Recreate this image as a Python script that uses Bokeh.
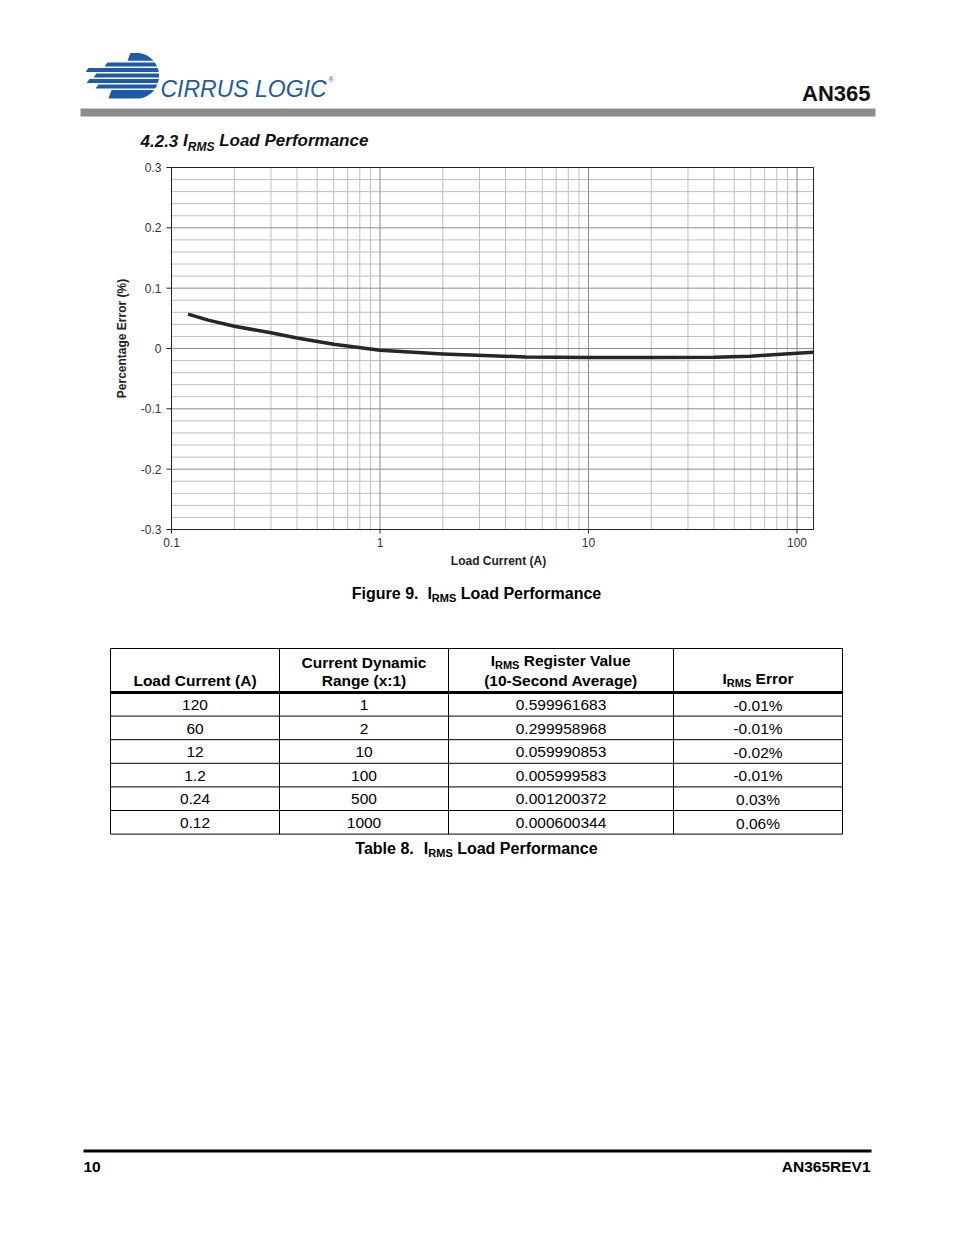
import math
from bokeh.plotting import figure
from bokeh.models import Range1d, ColumnDataSource, LogScale, LinearScale
from bokeh.embed import file_html
from bokeh.resources import INLINE
from bokeh.core.properties import value

# ---------------- data ----------------
load_current = [0.12, 0.15, 0.2, 0.3, 0.4, 0.6, 0.9, 1.0, 2.0, 3.4, 5.0, 10.0, 20.0, 40.0, 60.0, 80.0, 120.0]
pct_error = [0.057, 0.047, 0.037, 0.026, 0.0175, 0.007, -0.001, -0.003, -0.009, -0.012, -0.014,
             -0.015, -0.015, -0.0145, -0.0127, -0.0099, -0.0061]

x_limits = [0.1, 120]
y_limits = [-0.3, 0.3]
x_tick_values = [0.1, 1, 10, 100]
x_tick_labels = ["0.1", "1", "10", "100"]
x_minor_values = [m * d for d in (0.1, 1, 10) for m in range(2, 10)]
y_tick_values = [-0.3, -0.2, -0.1, 0, 0.1, 0.2, 0.3]
y_tick_labels = ["-0.3", "-0.2", "-0.1", "0", "0.1", "0.2", "0.3"]
y_minor_values = [round(i * 0.02, 2) for i in range(-15, 16) if i % 5 != 0]

table_header = ["Load Current (A)", "Current Dynamic", "Range (x:1)", "Register Value",
                "(10-Second Average)", "Error"]
table_load = ["120", "60", "12", "1.2", "0.24", "0.12"]
table_range = ["1", "2", "10", "100", "500", "1000"]
table_register = ["0.599961683", "0.299958968", "0.059990853", "0.005999583", "0.001200372", "0.000600344"]
table_error = ["-0.01%", "-0.01%", "-0.02%", "-0.01%", "0.03%", "0.06%"]

# ---------------- helpers ----------------
FONT = "Liberation Sans"
W, H = 938, 1219
OFF = 0
BLUE = "#1d5ba6"

REG = {' ': 278, '.': 278, ',': 278, '(': 333, ')': 333, '-': 333, ':': 278, '%': 889}
BOLD = {' ': 278, '.': 278, ',': 278, '(': 333, ')': 333, '-': 333, ':': 333, '%': 889}
for c in "0123456789":
    REG[c] = 556
    BOLD[c] = 556
REG.update(dict(zip("ABCDEFGHIJKLMNOPQRSTUVWXYZ",
                    [667, 667, 722, 722, 667, 611, 778, 722, 278, 500, 667, 556, 833, 722, 778, 667, 778, 722, 667, 611, 722, 667, 944, 667, 667, 611])))
REG.update(dict(zip("abcdefghijklmnopqrstuvwxyz",
                    [556, 556, 500, 556, 556, 278, 556, 556, 222, 222, 500, 222, 833, 556, 556, 556, 556, 333, 500, 278, 556, 500, 722, 500, 500, 500])))
BOLD.update(dict(zip("ABCDEFGHIJKLMNOPQRSTUVWXYZ",
                     [722, 722, 722, 722, 667, 611, 778, 722, 278, 556, 722, 611, 833, 722, 778, 667, 778, 722, 667, 611, 722, 667, 944, 667, 667, 611])))
BOLD.update(dict(zip("abcdefghijklmnopqrstuvwxyz",
                     [556, 611, 556, 611, 556, 333, 611, 611, 278, 278, 556, 278, 889, 611, 611, 611, 611, 389, 556, 333, 611, 556, 778, 556, 556, 500])))


def tw(s, size, bold):
    t = BOLD if bold else REG
    return sum(t.get(c, 556) for c in s) / 1000.0 * size


# page figure: data coords == page pixels
p = figure(width=W, height=H, x_range=Range1d(OFF, OFF + W), y_range=Range1d(OFF + H, OFF),
           output_backend="svg", toolbar_location=None, min_border=0,
           x_axis_location=None, y_axis_location=None, outline_line_color=None)
p.grid.visible = False
p.background_fill_color = "white"
p.border_fill_color = "white"

TEXTS = {}


def put(x, y, text, size, bold=False, italic=False, align="left", color="black"):
    """y is the text baseline; drawn with middle baseline at cap centre."""
    if bold and italic:
        style = "bold italic"
    elif bold:
        style = "bold"
    elif italic:
        style = "italic"
    else:
        style = "normal"
    key = (size, style, align, color)
    d = TEXTS.setdefault(key, dict(x=[], y=[], text=[]))
    d["x"].append(x)
    d["y"].append(y - 0.37 * size)
    d["text"].append(text)


def rich(x, y, parts, align="center", bold=True, italic=False, color="black"):
    widths = [tw(t, s, bold) for t, s, dy in parts]
    total = sum(widths)
    if align == "center":
        cur = x - total / 2
    elif align == "right":
        cur = x - total
    else:
        cur = x
    for (t, s, dy), w in zip(parts, widths):
        lead = len(t) - len(t.lstrip(' '))
        if t.strip(' '):
            put(cur + tw(' ' * lead, s, bold), y + dy, t.strip(' '), s, bold, italic, "left", color)
        cur += w


# ---------------- header ----------------
cx, cy, r = 135.5, 75.3, 23.0
stripes = [(52.5, 60.3, 127), (62, 66, 104), (67.5, 71.5, 85), (73, 77, 93),
           (78.5, 82.5, 86), (84, 88, 95), (89.5, 98, 108)]
sxs, sys_ = [], []
for yt, yb, xl in stripes:
    ye = [yt + (yb - yt) * k / 10 for k in range(11)]
    right = [cx + math.sqrt(max(r * r - (yy - cy) ** 2, 0)) for yy in ye]
    sxs.append([xl + 3] + right + [xl])
    sys_.append([yt] + ye + [yb])
p.patches(sxs, sys_, fill_color=BLUE, line_color=None)
put(160, 97.5, "CIRRUS LOGIC", 23, italic=True, color=BLUE)
put(328, 82, "®", 7, color=BLUE)
put(870, 101, "AN365", 22, bold=True, align="right", color="#111111")
p.quad(left=80, right=875, top=108, bottom=116, fill_color="#8c8c8c", line_color=None)
rich(140, 146.5, [("4.2.3", 17, 0), (" I", 17, 0), ("RMS", 12, 4), (" Load Performance", 17, 0)],
     align="left", bold=True, italic=True, color="#111111")

# ---------------- chart (log x / linear y scales laid over the page) ----------------
BOX_L, BOX_R, BOX_T, BOX_B = 171, 813, 167, 529   # chart frame on the page
lx0, lx1 = math.log10(x_limits[0]), math.log10(x_limits[1])
ppd = (BOX_R - BOX_L) / (lx1 - lx0)
p.extra_x_ranges = {"logx": Range1d(10 ** (lx0 - (BOX_L - OFF) / ppd),
                                    10 ** (lx1 + (OFF + W - BOX_R) / ppd))}
p.extra_x_scales = {"logx": LogScale()}
ppu = (BOX_B - BOX_T) / (y_limits[1] - y_limits[0])
p.extra_y_ranges = {"pct": Range1d(y_limits[0] - (OFF + H - BOX_B) / ppu,
                                   y_limits[1] + (BOX_T - OFF) / ppu)}
p.extra_y_scales = {"pct": LinearScale()}
XR, YR = "logx", "pct"
n_xm, n_ym = len(x_minor_values), len(y_minor_values)
n_xt, n_yt = len(x_tick_values), len(y_tick_values)

MINOR = "#bfbfbf"
MAJOR = "#8c8c8c"
p.segment(x0=x_minor_values, x1=x_minor_values, y0=[y_limits[0]] * n_xm, y1=[y_limits[1]] * n_xm,
          line_color=MINOR, line_width=1, x_range_name=XR, y_range_name=YR)
p.segment(x0=[x_limits[0]] * n_ym, x1=[x_limits[1]] * n_ym, y0=y_minor_values, y1=y_minor_values,
          line_color=MINOR, line_width=1, x_range_name=XR, y_range_name=YR)
p.segment(x0=x_tick_values, x1=x_tick_values, y0=[y_limits[0]] * n_xt, y1=[y_limits[1]] * n_xt,
          line_color=MAJOR, line_width=1, x_range_name=XR, y_range_name=YR)
p.segment(x0=[x_limits[0]] * n_yt, x1=[x_limits[1]] * n_yt, y0=y_tick_values, y1=y_tick_values,
          line_color=MAJOR, line_width=1, x_range_name=XR, y_range_name=YR)

src = ColumnDataSource(dict(x=load_current, y=pct_error))
p.line(x="x", y="y", source=src, line_color="#262626", line_width=3.5,
       line_cap="butt", line_join="round", x_range_name=XR, y_range_name=YR)

p.quad(left=[x_limits[0]], right=[x_limits[1]], bottom=[y_limits[0]], top=[y_limits[1]],
       fill_color=None, line_color="#222222", line_width=1, x_range_name=XR, y_range_name=YR)

p.ray(x=[x_limits[0]] * n_yt, y=y_tick_values, length=5, length_units="screen", angle=math.pi,
      line_color="#222222", line_width=1, x_range_name=XR, y_range_name=YR)
p.ray(x=x_tick_values, y=[y_limits[0]] * n_xt, length=4, length_units="screen", angle=-math.pi / 2,
      line_color="#222222", line_width=1, x_range_name=XR, y_range_name=YR)

p.text(x=[x_limits[0]] * n_yt, y=y_tick_values, text=y_tick_labels, x_offset=-10,
       text_align="right", text_baseline="middle", text_font=value(FONT),
       text_font_size="12px", text_color="#333333", x_range_name=XR, y_range_name=YR)
p.text(x=x_tick_values, y=[y_limits[0]] * n_xt, text=x_tick_labels, y_offset=8,
       text_align="center", text_baseline="top", text_font=value(FONT),
       text_font_size="12px", text_color="#333333", x_range_name=XR, y_range_name=YR)

p.text(x=[(BOX_L + BOX_R) / 2 + 6], y=[560], text=["Load Current (A)"], text_align="center",
       text_baseline="middle", text_font=value(FONT), text_font_size="12px",
       text_font_style="bold", text_color="#222222")
p.text(x=[121], y=[(BOX_T + BOX_B) / 2 - 10], text=["Percentage Error (%)"], angle=math.pi / 2,
       text_align="center", text_baseline="middle", text_font=value(FONT), text_font_size="12px",
       text_font_style="bold", text_color="#222222")

# ---------------- caption, table, footer ----------------
rich(476, 598.5, [("Figure 9.", 16, 0), ("  I", 16, 0), ("RMS", 11, 3.5), (" Load Performance", 16, 0)])

cols_x = [110, 279, 448, 673, 842]
top_y = 648
head_bottom = 692
row_h = 23.6
n_rows = len(table_load)
rows_y = [head_bottom + row_h * i for i in range(n_rows + 1)]

p.segment(x0=cols_x, y0=[top_y] * len(cols_x), x1=cols_x, y1=[rows_y[-1]] * len(cols_x),
          line_color="black", line_width=1)
hy = [top_y] + rows_y[1:]
p.segment(x0=[cols_x[0]] * len(hy), y0=hy, x1=[cols_x[-1]] * len(hy), y1=hy,
          line_color="black", line_width=1)
p.segment(x0=[cols_x[0]], y0=[head_bottom], x1=[cols_x[-1]], y1=[head_bottom],
          line_color="black", line_width=3)

centers = [(cols_x[i] + cols_x[i + 1]) / 2 for i in range(4)]
TS = 15.5
put(centers[0], 685.5, table_header[0], TS, bold=True, align="center")
put(centers[1], 667.5, table_header[1], TS, bold=True, align="center")
put(centers[1], 685.5, table_header[2], TS, bold=True, align="center")
rich(centers[2], 665.5, [("I", TS, 0), ("RMS", 11, 3.5), (" " + table_header[3], TS, 0)])
put(centers[2], 685.5, table_header[4], TS, bold=True, align="center")
rich(centers[3], 683.5, [("I", TS, 0), ("RMS", 11, 3.5), (" " + table_header[5], TS, 0)])

for i in range(n_rows):
    yb = (rows_y[i] + rows_y[i + 1]) / 2 + 6.5
    for c, col in enumerate([table_load, table_range, table_register, table_error]):
        put(centers[c], yb, col[i], TS, align="center")

rich(476, 853.5, [("Table 8.", 16, 0), ("  I", 16, 0), ("RMS", 11, 3.5), (" Load Performance", 16, 0)])

p.segment(x0=[83], y0=[1150.5], x1=[871], y1=[1150.5], line_color="black", line_width=3)
put(83, 1172, "10", 15.5, bold=True)
put(870, 1172, "AN365REV1", 15.5, bold=True, align="right")

# draw all page texts
for (size, style, align, color), d in TEXTS.items():
    p.text(x="x", y="y", text="text", source=ColumnDataSource(d), text_font=value(FONT),
           text_font_size=f"{size}px", text_font_style=style, text_align=align,
           text_baseline="middle", text_color=color)

open("out.html", "w").write(file_html(p, INLINE))
